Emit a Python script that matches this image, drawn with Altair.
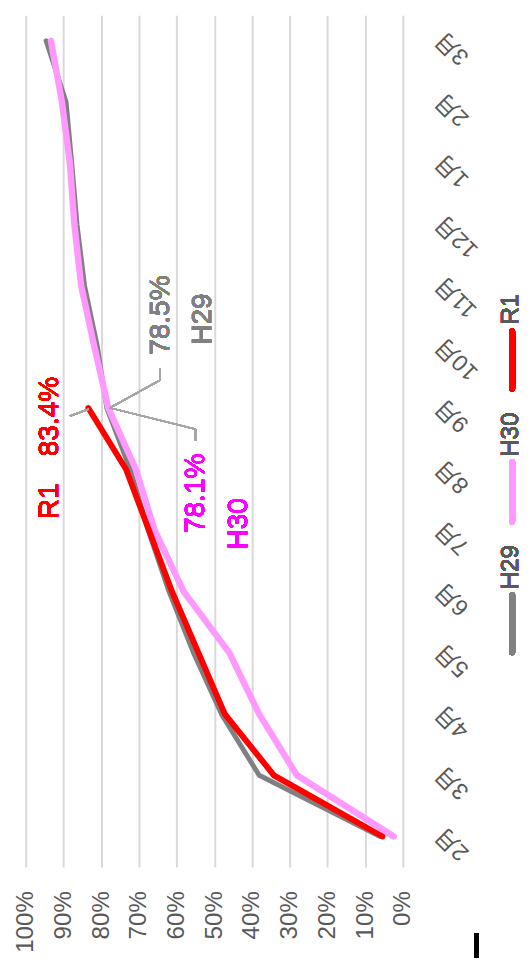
import altair as alt
import pandas as pd

# ---- data ----
months = ["2月", "3月", "4月", "5月", "6月", "7月", "8月", "9月",
          "10月", "11月", "12月", "1月", "2月", "3月"]
h29 = [6.0, 38.1, 48.1, 55.5, 62.0, 67.5, 72.3, 78.5, 81.0, 84.4, 86.4, 87.8, 89.3, 94.6]
h30 = [2.4, 28.1, 38.1, 46.0, 58.1, 65.8, 70.8, 78.1, 81.8, 85.3, 87.1, 88.3, 90.4, 93.3]
r1 = [5.4, 34.2, 47.2, 54.2, 61.2, 67.3, 73.4, 83.4]
series_names = ["H29", "H30", "R1"]
series_colors = ["#808080", "#ff99ff", "#ff0000"]
label_colors = ["#808080", "#ff00ff", "#ff0000"]
pct_ticks = [0, 10, 20, 30, 40, 50, 60, 70, 80, 90, 100]

rows = []
for name, vals in zip(series_names, [h29, h30, r1]):
    for i, v in enumerate(vals):
        rows.append({"series": name, "idx": i, "value": v})
df = pd.DataFrame(rows)

FONT = "Liberation Sans"
CJKFONT = "Liberation Sans, Noto Sans CJK JP"
W, H = 383, 865

month_js = "[" + ",".join("'" + m + "'" for m in months) + "]"

xscale = alt.Scale(domain=[0, 100], reverse=True, nice=False)
yscale = alt.Scale(domain=[-0.4988, 13.418], nice=False, zero=False)

xaxis = alt.Axis(values=pct_ticks, labelExpr="datum.value + '%'", labelAngle=270,
                 labelAlign="right", labelBaseline="middle", labelPadding=24,
                 labelFontSize=24.5, labelFont=FONT, labelColor="#595959",
                 grid=True, gridColor="#d9d9d9", gridWidth=2, domain=False,
                 ticks=False, tickSize=0, labelOverlap=False, labelFlush=False,
                 title=None)
yaxis = alt.Axis(orient="right", values=list(range(len(months))),
                 labelExpr=month_js + "[datum.value]", labelAngle=225,
                 labelAlign="right", labelBaseline="middle", labelPadding=37,
                 labelOffset=-6,
                 labelFontSize=23.5, labelFont=CJKFONT, labelColor="#595959",
                 grid=False, domain=False, ticks=False, tickSize=0,
                 labelOverlap=False, labelFlush=False, title=None)

widths = {"H29": 5, "H30": 6.5, "R1": 6}
layers = []
for name, col in zip(series_names, series_colors):
    ln = alt.Chart(df).transform_filter(alt.datum.series == name).mark_line(
        color=col, strokeWidth=widths[name], strokeCap="round", strokeJoin="round"
    ).encode(
        x=alt.X("value:Q", scale=xscale, axis=xaxis),
        y=alt.Y("idx:Q", scale=yscale, axis=yaxis),
        order=alt.Order("idx:Q"),
    )
    layers.append(ln)

def seg(x1, y1, x2, y2, color="#a6a6a6", w=1.5):
    return alt.Chart(df).mark_rule(color=color, strokeWidth=w, strokeCap="butt").encode(
        x=alt.value(x1), y=alt.value(y1), x2=alt.value(x2), y2=alt.value(y2))

def txt(t, x, y, color, size, angle=270):
    return alt.Chart(df).mark_text(text=t, angle=angle, align="center", baseline="middle",
                                   font=FONT, fontSize=size, fontWeight="normal",
                                   color=color).encode(
        x=alt.value(x), y=alt.value(y))

ann = []
# leader lines
ann.append(seg(45, 407, 64, 400))
ann.append(seg(136.5, 359, 136.5, 370.5))
ann.append(seg(136.5, 370.5, 85.5, 398.7))
ann.append(seg(85.5, 398.7, 172.3, 420.3))
ann.append(seg(172.3, 420.3, 172.3, 432))
# data labels
ann.append(txt("83.4%", 24, 407.5, label_colors[2], 28.5))
ann.append(txt("R1", 24, 493.5, label_colors[2], 28.5))
ann.append(txt("78.5%", 136.5, 304.5, label_colors[0], 28.5))
ann.append(txt("H29", 179, 308.5, label_colors[0], 28.5))
ann.append(txt("78.1%", 172, 485.5, label_colors[1], 28.5))
ann.append(txt("H30", 216, 516.5, label_colors[1], 28.5))

# legend (rotated)
leg_y = {"R1": (321, 379, 298.5), "H30": (454, 514, 426), "H29": (589, 647, 560.5)}
for name, col in zip(series_names, series_colors):
    y1, y2, ty = leg_y[name]
    ann.append(alt.Chart(df).mark_rule(color=col, strokeWidth=6, strokeCap="round").encode(
        x=alt.value(494), x2=alt.value(494), y=alt.value(y1), y2=alt.value(y2)))
    ann.append(txt(name, 493, ty, "#595959", 24.5))

# page mark at bottom
ann.append(alt.Chart(df).mark_rule(color="#000000", strokeWidth=4).encode(
    x=alt.value(458), x2=alt.value(458), y=alt.value(932), y2=alt.value(960)))

chart = alt.layer(*layers, *ann).properties(
    width=W, height=H,
    background="white",
    autosize=alt.AutoSizeParams(type="none"),
    padding={"left": 18, "top": 0, "right": 122, "bottom": 85},
).configure_view(stroke="transparent")

chart.save("out.html", embed_options={"renderer": "svg", "actions": False})
